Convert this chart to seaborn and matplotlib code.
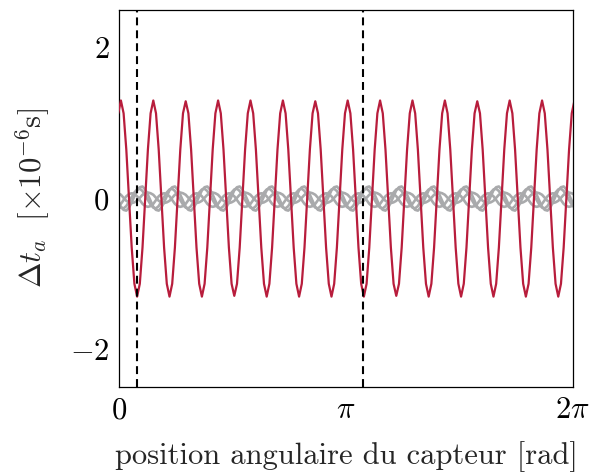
import numpy as np
import pandas as pd
import matplotlib
matplotlib.use("Agg")
import matplotlib.pyplot as plt
import seaborn as sns

# ---- data ----
# 12 samples per period, 14 periods over [0, 2pi]; first sample slightly before 0
red_dt = [
    1.13,
    1.30, 1.13, 0.65, 0.00, -0.65, -1.13, -1.30, -1.13, -0.65, 0.00, 0.65, 1.13,
    1.30, 1.13, 0.65, 0.00, -0.65, -1.13, -1.30, -1.13, -0.65, 0.00, 0.65, 1.13,
    1.29, 1.13, 0.65, 0.00, -0.65, -1.13, -1.30, -1.13, -0.65, 0.00, 0.65, 1.13,
    1.30, 1.13, 0.65, 0.00, -0.65, -1.13, -1.29, -1.13, -0.65, 0.00, 0.65, 1.13,
    1.30, 1.13, 0.65, 0.00, -0.65, -1.13, -1.30, -1.13, -0.65, 0.00, 0.65, 1.13,
    1.30, 1.13, 0.65, 0.00, -0.65, -1.13, -1.30, -1.13, -0.65, 0.00, 0.65, 1.13,
    1.29, 1.13, 0.65, 0.00, -0.65, -1.13, -1.30, -1.13, -0.65, 0.00, 0.65, 1.13,
    1.30, 1.13, 0.65, 0.00, -0.65, -1.13, -1.30, -1.13, -0.65, 0.00, 0.65, 1.13,
    1.30, 1.13, 0.65, 0.00, -0.65, -1.13, -1.29, -1.13, -0.65, 0.00, 0.65, 1.13,
    1.30, 1.13, 0.65, 0.00, -0.65, -1.13, -1.30, -1.13, -0.65, 0.00, 0.65, 1.13,
    1.30, 1.13, 0.65, 0.00, -0.65, -1.13, -1.30, -1.13, -0.65, 0.00, 0.65, 1.13,
    1.29, 1.13, 0.65, 0.00, -0.65, -1.13, -1.30, -1.13, -0.65, 0.00, 0.65, 1.13,
    1.30, 1.13, 0.65, 0.00, -0.65, -1.13, -1.30, -1.13, -0.65, 0.00, 0.65, 1.13,
    1.30, 1.13, 0.65, 0.00, -0.65, -1.13, -1.30, -1.13, -0.65, 0.00, 0.65, 1.13,
    1.30,
]

gray_a = [
    -0.03,
    -0.11, -0.15, -0.16, -0.12, -0.05, 0.03, 0.11, 0.15, 0.16, 0.12, 0.05, -0.03,
    -0.11, -0.15, -0.16, -0.12, -0.05, 0.03, 0.11, 0.15, 0.16, 0.12, 0.05, -0.03,
    -0.11, -0.15, -0.16, -0.12, -0.05, 0.03, 0.11, 0.15, 0.16, 0.12, 0.05, -0.03,
    -0.11, -0.15, -0.16, -0.12, -0.05, 0.03, 0.11, 0.15, 0.16, 0.12, 0.05, -0.03,
    -0.11, -0.15, -0.16, -0.12, -0.05, 0.03, 0.11, 0.15, 0.16, 0.12, 0.05, -0.03,
    -0.11, -0.15, -0.16, -0.12, -0.05, 0.03, 0.11, 0.15, 0.16, 0.12, 0.05, -0.03,
    -0.11, -0.15, -0.16, -0.12, -0.05, 0.03, 0.11, 0.15, 0.16, 0.12, 0.05, -0.03,
    -0.11, -0.15, -0.16, -0.12, -0.05, 0.03, 0.11, 0.15, 0.16, 0.12, 0.05, -0.03,
    -0.11, -0.15, -0.16, -0.12, -0.05, 0.03, 0.11, 0.15, 0.16, 0.12, 0.05, -0.03,
    -0.11, -0.15, -0.16, -0.12, -0.05, 0.03, 0.11, 0.15, 0.16, 0.12, 0.05, -0.03,
    -0.11, -0.15, -0.16, -0.12, -0.05, 0.03, 0.11, 0.15, 0.16, 0.12, 0.05, -0.03,
    -0.11, -0.15, -0.16, -0.12, -0.05, 0.03, 0.11, 0.15, 0.16, 0.12, 0.05, -0.03,
    -0.11, -0.15, -0.16, -0.12, -0.05, 0.03, 0.11, 0.15, 0.16, 0.12, 0.05, -0.03,
    -0.11, -0.15, -0.16, -0.12, -0.05, 0.03, 0.11, 0.15, 0.16, 0.12, 0.05, -0.03,
    -0.11,
]

gray_b = [
    -0.10,
    -0.07, -0.02, 0.03, 0.06, 0.07, 0.06, 0.03, -0.02, -0.07, -0.10, -0.11, -0.10,
    -0.07, -0.02, 0.03, 0.06, 0.07, 0.06, 0.03, -0.02, -0.07, -0.10, -0.11, -0.10,
    -0.07, -0.02, 0.03, 0.06, 0.07, 0.06, 0.03, -0.02, -0.07, -0.10, -0.11, -0.10,
    -0.07, -0.02, 0.03, 0.06, 0.07, 0.06, 0.03, -0.02, -0.07, -0.10, -0.11, -0.10,
    -0.07, -0.02, 0.03, 0.06, 0.07, 0.06, 0.03, -0.02, -0.07, -0.10, -0.11, -0.10,
    -0.07, -0.02, 0.03, 0.06, 0.07, 0.06, 0.03, -0.02, -0.07, -0.10, -0.11, -0.10,
    -0.07, -0.02, 0.03, 0.06, 0.07, 0.06, 0.03, -0.02, -0.07, -0.10, -0.11, -0.10,
    -0.07, -0.02, 0.03, 0.06, 0.07, 0.06, 0.03, -0.02, -0.07, -0.10, -0.11, -0.10,
    -0.07, -0.02, 0.03, 0.06, 0.07, 0.06, 0.03, -0.02, -0.07, -0.10, -0.11, -0.10,
    -0.07, -0.02, 0.03, 0.06, 0.07, 0.06, 0.03, -0.02, -0.07, -0.10, -0.11, -0.10,
    -0.07, -0.02, 0.03, 0.06, 0.07, 0.06, 0.03, -0.02, -0.07, -0.10, -0.11, -0.10,
    -0.07, -0.02, 0.03, 0.06, 0.07, 0.06, 0.03, -0.02, -0.07, -0.10, -0.11, -0.10,
    -0.07, -0.02, 0.03, 0.06, 0.07, 0.06, 0.03, -0.02, -0.07, -0.10, -0.11, -0.10,
    -0.07, -0.02, 0.03, 0.06, 0.07, 0.06, 0.03, -0.02, -0.07, -0.10, -0.11, -0.10,
    -0.07,
]

gray_c = [
    0.07,
    0.05, 0.01, -0.03, -0.05, -0.06, -0.05, -0.03, 0.01, 0.05, 0.07, 0.08, 0.07,
    0.05, 0.01, -0.03, -0.05, -0.06, -0.05, -0.03, 0.01, 0.05, 0.07, 0.08, 0.07,
    0.05, 0.01, -0.03, -0.05, -0.06, -0.05, -0.03, 0.01, 0.05, 0.07, 0.08, 0.07,
    0.05, 0.01, -0.03, -0.05, -0.06, -0.05, -0.03, 0.01, 0.05, 0.07, 0.08, 0.07,
    0.05, 0.01, -0.03, -0.05, -0.06, -0.05, -0.03, 0.01, 0.05, 0.07, 0.08, 0.07,
    0.05, 0.01, -0.03, -0.05, -0.06, -0.05, -0.03, 0.01, 0.05, 0.07, 0.08, 0.07,
    0.05, 0.01, -0.03, -0.05, -0.06, -0.05, -0.03, 0.01, 0.05, 0.07, 0.08, 0.07,
    0.05, 0.01, -0.03, -0.05, -0.06, -0.05, -0.03, 0.01, 0.05, 0.07, 0.08, 0.07,
    0.05, 0.01, -0.03, -0.05, -0.06, -0.05, -0.03, 0.01, 0.05, 0.07, 0.08, 0.07,
    0.05, 0.01, -0.03, -0.05, -0.06, -0.05, -0.03, 0.01, 0.05, 0.07, 0.08, 0.07,
    0.05, 0.01, -0.03, -0.05, -0.06, -0.05, -0.03, 0.01, 0.05, 0.07, 0.08, 0.07,
    0.05, 0.01, -0.03, -0.05, -0.06, -0.05, -0.03, 0.01, 0.05, 0.07, 0.08, 0.07,
    0.05, 0.01, -0.03, -0.05, -0.06, -0.05, -0.03, 0.01, 0.05, 0.07, 0.08, 0.07,
    0.05, 0.01, -0.03, -0.05, -0.06, -0.05, -0.03, 0.01, 0.05, 0.07, 0.08, 0.07,
    0.05,
]

gray_d = [
    -0.08,
    -0.12, -0.13, -0.10, -0.04, 0.02, 0.08, 0.12, 0.13, 0.10, 0.04, -0.02, -0.08,
    -0.12, -0.13, -0.10, -0.04, 0.02, 0.08, 0.12, 0.13, 0.10, 0.04, -0.02, -0.08,
    -0.12, -0.13, -0.10, -0.04, 0.02, 0.08, 0.12, 0.13, 0.10, 0.04, -0.02, -0.08,
    -0.12, -0.13, -0.10, -0.04, 0.02, 0.08, 0.12, 0.13, 0.10, 0.04, -0.02, -0.08,
    -0.12, -0.13, -0.10, -0.04, 0.02, 0.08, 0.12, 0.13, 0.10, 0.04, -0.02, -0.08,
    -0.12, -0.13, -0.10, -0.04, 0.02, 0.08, 0.12, 0.13, 0.10, 0.04, -0.02, -0.08,
    -0.12, -0.13, -0.10, -0.04, 0.02, 0.08, 0.12, 0.13, 0.10, 0.04, -0.02, -0.08,
    -0.12, -0.13, -0.10, -0.04, 0.02, 0.08, 0.12, 0.13, 0.10, 0.04, -0.02, -0.08,
    -0.12, -0.13, -0.10, -0.04, 0.02, 0.08, 0.12, 0.13, 0.10, 0.04, -0.02, -0.08,
    -0.12, -0.13, -0.10, -0.04, 0.02, 0.08, 0.12, 0.13, 0.10, 0.04, -0.02, -0.08,
    -0.12, -0.13, -0.10, -0.04, 0.02, 0.08, 0.12, 0.13, 0.10, 0.04, -0.02, -0.08,
    -0.12, -0.13, -0.10, -0.04, 0.02, 0.08, 0.12, 0.13, 0.10, 0.04, -0.02, -0.08,
    -0.12, -0.13, -0.10, -0.04, 0.02, 0.08, 0.12, 0.13, 0.10, 0.04, -0.02, -0.08,
    -0.12, -0.13, -0.10, -0.04, 0.02, 0.08, 0.12, 0.13, 0.10, 0.04, -0.02, -0.08,
    -0.12,
]

# sample angles (rad): uniform grid, 12 per period of 2pi/14, offset of the first peak
theta = 0.0236 + (2 * np.pi / 168) * np.arange(-1, len(red_dt) - 1)

marker_angles = [0.241, 3.383]          # dashed vertical lines
xtick_values = [0.0, np.pi, 2 * np.pi]
xtick_labels = [r"$0$", r"$\pi$", r"$2\pi$"]
ytick_values = [-2, 0, 2]
ytick_labels = [r"$-2$", r"$0$", r"$2$"]

# ---- styling ----
sns.set_theme(style="white")
plt.rcParams["font.family"] = ["cmr10", "DejaVu Serif"]
plt.rcParams["mathtext.fontset"] = "cm"
plt.rcParams["axes.formatter.use_mathtext"] = True

RED = "#B81D3C"
GRAY = "#A9AAAC"
FS = 22

fig = plt.figure(figsize=(5.96, 4.75), dpi=100)
ax = fig.add_axes([0.2, 0.185, 0.761, 0.794])

df = pd.DataFrame({"theta": theta, "red": red_dt, "a": gray_a, "b": gray_b,
                   "c": gray_c, "d": gray_d})

for col in ["a", "b", "c", "d"]:
    sns.lineplot(data=df, x="theta", y=col, ax=ax, color=GRAY, lw=1.9,
                 estimator=None, sort=False, zorder=2)
sns.lineplot(data=df, x="theta", y="red", ax=ax, color=RED, lw=1.6,
             estimator=None, sort=False, zorder=3)

for xv in marker_angles:
    ax.axvline(xv, color="black", lw=1.5, dashes=(3.8, 2.4), zorder=4)

ax.set_xlim(0, 2 * np.pi)
ax.set_ylim(-2.5, 2.5)
ax.set_xticks(xtick_values, xtick_labels)
ax.set_yticks(ytick_values, ytick_labels)
ax.tick_params(axis="both", direction="in", length=7, width=0.5, color="#888888",
               labelsize=FS)
ax.tick_params(axis="x", pad=7)
ax.tick_params(axis="y", pad=7)
for tl in ax.get_xticklabels() + ax.get_yticklabels():
    tl.set_color("black")

for s in ax.spines.values():
    s.set_visible(True)
    s.set_color("black")
    s.set_linewidth(0.9)

ax.set_xlabel("position angulaire du capteur [rad]", fontsize=FS, labelpad=12)
ax.set_ylabel(r"$\Delta t_a\ \ [\times 10^{-6}\mathrm{s}]$", fontsize=FS, labelpad=13)

fig.savefig("out.png", dpi=100)
